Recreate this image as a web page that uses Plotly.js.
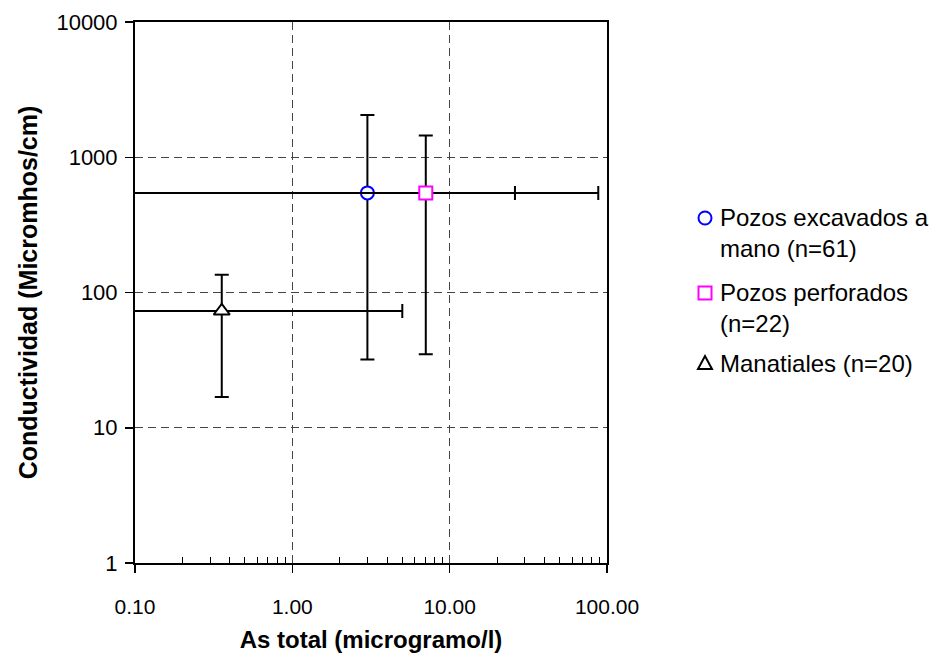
<!DOCTYPE html>
<html>
<head>
<meta charset="utf-8">
<script src="https://cdn.plot.ly/plotly-3.0.1.min.js"></script>
<style>html,body{margin:0;padding:0;background:#fff;}#chart{width:935px;height:659px;}</style>
</head>
<body>
<div id="chart"></div>
<script>
// ---- data ----
const seriesNames = ["Pozos excavados a<br>mano (n=61)", "Pozos perforados<br>(n=22)", "Manatiales (n=20)"];
const asTotal = [3.0, 7.05, 0.356];          // x: As total (microgramo/l)
const conductividad = [545, 545, 73];        // y: Conductividad (Micromhos/cm)
const asLow = [0.09, 0.09, 0.09];            // x error low end
const asHigh = [88, 26, 5.0];                // x error high end
const condLow = [32, 35, 16.9];              // y error low end
const condHigh = [2050, 1450, 135];          // y error high end
const xTickVals = [0.1, 1, 10, 100];
const xTickText = ["0.10", "1.00", "10.00", "100.00"];
const yTickVals = [1, 10, 100, 1000, 10000];
const yTickText = ["1", "10", "100", "1000", "10000"];

const markerStyles = [
  {symbol: "circle", color: "#0000FF"},
  {symbol: "square", color: "#FF00FF"},
  {symbol: "triangle-up", color: "#000000"}
];

const FONT = "Liberation Sans, Arial, sans-serif";

const traces = seriesNames.map((name, i) => ({
  type: "scatter",
  mode: "markers",
  name: name,
  showlegend: false,
  x: [asTotal[i]],
  y: [conductividad[i]],
  cliponaxis: false,
  marker: {
    symbol: markerStyles[i].symbol,
    size: i === 2 ? 14 : 13,
    color: "#ffffff",
    line: {color: markerStyles[i].color, width: 2}
  },
  error_x: {
    type: "data", symmetric: false,
    array: [asHigh[i] - asTotal[i]],
    arrayminus: [asTotal[i] - asLow[i]],
    color: "#000", thickness: 2, width: 7
  },
  error_y: {
    type: "data", symmetric: false,
    array: [condHigh[i] - conductividad[i]],
    arrayminus: [conductividad[i] - condLow[i]],
    color: "#000", thickness: 2, width: 7
  }
}));

// minor tick positions (2..9 per decade)
const minorX = [];
[0.1, 1, 10].forEach(d => { for (let k = 2; k <= 9; k++) minorX.push(d * k); });

// ---- hand-built legend (paper coordinates) ----
const M = {l: 135, r: 328, t: 22, b: 96};
const W = 935, H = 659;
const pw = W - M.l - M.r, ph = H - M.t - M.b;
const px2x = p => (p - M.l) / pw;
const py2y = p => (H - M.b - p) / ph;
const legSymX = 705, legTextX = 718;
const legSymY = [218, 293, 363];
const legTextY = [233, 308, 363];

const symbolPaths = {
  circle: null,
  square: null,
  "triangle-up": "M -7 -6 L 7 -6 L 0 7 Z"
};

const shapes = [];
const annotations = [];
seriesNames.forEach((name, i) => {
  const st = markerStyles[i];
  const base = {
    xref: "paper", yref: "paper",
    xsizemode: "pixel", ysizemode: "pixel",
    xanchor: px2x(legSymX), yanchor: py2y(legSymY[i]),
    line: {color: st.color, width: 2}, fillcolor: "#fff"
  };
  if (st.symbol === "circle") {
    shapes.push(Object.assign({type: "circle", x0: -6.5, x1: 6.5, y0: -6.5, y1: 6.5}, base));
  } else if (st.symbol === "square") {
    shapes.push(Object.assign({type: "rect", x0: -6.5, x1: 6.5, y0: -6.5, y1: 6.5}, base));
  } else {
    shapes.push(Object.assign({type: "path", path: symbolPaths[st.symbol]}, base));
  }
  annotations.push({
    xref: "paper", yref: "paper",
    x: px2x(legTextX), y: py2y(legTextY[i]),
    xanchor: "left", yanchor: "middle", align: "left",
    showarrow: false, text: name,
    font: {family: FONT, size: 24, color: "#000"}
  });
});

const layout = {
  width: W, height: H,
  margin: M,
  paper_bgcolor: "#fff", plot_bgcolor: "#fff",
  font: {family: FONT, size: 22, color: "#000"},
  showlegend: false,
  shapes: shapes,
  annotations: annotations,
  xaxis: {
    type: "log", range: [-1, 2],
    tickmode: "array", tickvals: xTickVals, ticktext: xTickText,
    ticks: "outside", ticklen: 8, tickwidth: 1.5, tickcolor: "#000",
    ticklabelstandoff: 16,
    minor: {tickmode: "array", tickvals: minorX, ticks: "inside", ticklen: 6, tickwidth: 1, tickcolor: "#000", showgrid: false},
    showline: true, mirror: true, linecolor: "#000", linewidth: 2,
    showgrid: true, gridcolor: "#444", griddash: "8px,5px", gridwidth: 1,
    zeroline: false,
    tickfont: {family: FONT, size: 21},
    title: {text: "<b>As total (microgramo/l)</b>", font: {family: FONT, size: 24}, standoff: 14}
  },
  yaxis: {
    type: "log", range: [0, 4],
    tickmode: "array", tickvals: yTickVals, ticktext: yTickText,
    ticks: "outside", ticklen: 8, tickwidth: 1.5, tickcolor: "#000",
    ticklabelstandoff: 3,
    showline: true, mirror: true, linecolor: "#000", linewidth: 2,
    showgrid: true, gridcolor: "#444", griddash: "8px,5px", gridwidth: 1,
    zeroline: false,
    tickfont: {family: FONT, size: 22},
    title: {text: "<b>Conductividad (Micromhos/cm)</b>", font: {family: FONT, size: 25}, standoff: 12}
  }
};

Plotly.newPlot("chart", traces, layout, {staticPlot: true});
</script>
</body>
</html>
